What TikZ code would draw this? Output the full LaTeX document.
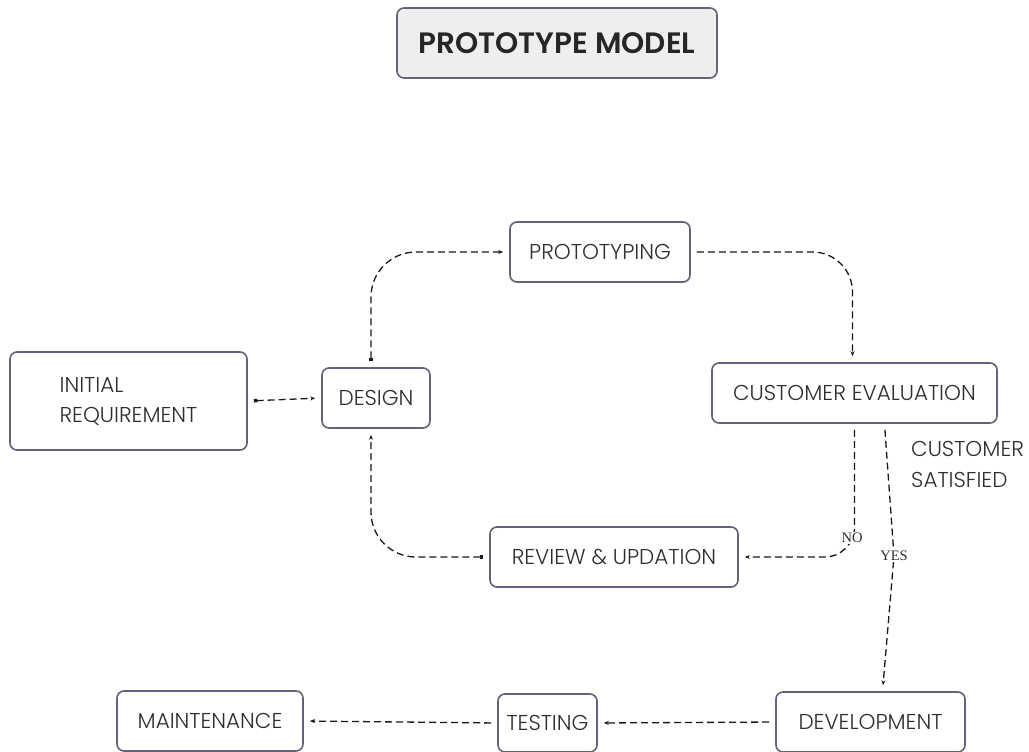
\documentclass[tikz,border=0pt]{standalone}
\usepackage{fontspec}
\setmainfont{Poppins}[UprightFont=* Light, BoldFont=* SemiBold]
\newfontfamily\edgefont{Liberation Serif}
\usetikzlibrary{positioning,arrows.meta,calc}

\definecolor{boxline}{HTML}{62627A}
\definecolor{inktext}{HTML}{2E2E2E}
\definecolor{titlefill}{HTML}{EEEEEE}

\begin{document}
\begin{tikzpicture}[
    x=1pt, y=-1pt,
    stage/.style={rectangle, rounded corners=7pt, draw=boxline, line width=1.6pt, fill=white,
      minimum height=60pt, inner sep=0pt, font=\fontsize{21.5}{30}\selectfont, text=inktext},
    flow/.style={draw=black!90, line width=1.3pt, dash pattern=on 7pt off 4pt,
      -{Stealth[length=5pt,width=4pt]}, shorten >=6pt, shorten <=6pt},
    fromsq/.style={{Square[length=3.5pt,width=3.5pt]}-{Stealth[length=5pt,width=4pt]}},
    answer/.style={font=\edgefont\fontsize{14.5}{15}\selectfont, text=inktext, fill=white, inner sep=1.5pt},
  ]
  \useasboundingbox (0,0) rectangle (1029,752);

  % Title
  \node[stage, fill=titlefill, minimum width=320pt, minimum height=70pt,
        font=\bfseries\fontsize{29.5}{32}\selectfont, text=black!85] (title) at (557,43) {PROTOTYPE MODEL};

  % Prototype loop
  \node[stage, minimum width=237pt, minimum height=98pt, align=left] (initreq) at (128.5,401)
    {INITIAL\\REQUIREMENT};
  \node[stage, minimum width=108pt] (design) at (376,398) {DESIGN};
  \node[stage, minimum width=180pt] (proto) at (600,252) {PROTOTYPING};
  \node[stage, minimum width=285pt] (custeval) at (854.5,393) {CUSTOMER EVALUATION};
  \node[stage, minimum width=248pt] (review) at (614,557) {REVIEW \& UPDATION};

  % After approval
  \node[stage, minimum width=189pt] (devel) at (870.5,722) {DEVELOPMENT};
  \node[stage, minimum width=99pt, minimum height=58pt] (testing) at (547.5,723) {TESTING};
  \node[stage, minimum width=186pt] (maint) at (210,721) {MAINTENANCE};

  \node[anchor=north west, align=left, font=\fontsize{21.5}{31}\selectfont, text=inktext, inner sep=0pt]
    (satisfied) at (911,441) {CUSTOMER\\SATISFIED};

  % Edges
  \draw[flow, fromsq] (initreq.east) -- (design.west);
  \draw[flow, fromsq, rounded corners=45pt] ([xshift=-5pt]design.north) |- (proto.west);
  \draw[flow, rounded corners=40pt] (proto.east) -| ([xshift=-2pt]custeval.north);
  \draw[flow, fromsq, rounded corners=45pt] (review.west) -| ([xshift=-5pt]design.south);
  \draw[flow, rounded corners=30pt] (custeval.south) |- (review.east);
  \node[answer] (no) at (852,538) {NO};

  \coordinate (yesbend) at (894,556);
  \draw[flow] ([xshift=30pt]custeval.south) -- (yesbend) -- ([xshift=12pt]devel.north);
  \node[answer] (yes) at (yesbend) {YES};

  \draw[flow] (devel.west) -- (testing.east);
  \draw[flow] (testing.west) -- (maint.east);
\end{tikzpicture}
\end{document}
